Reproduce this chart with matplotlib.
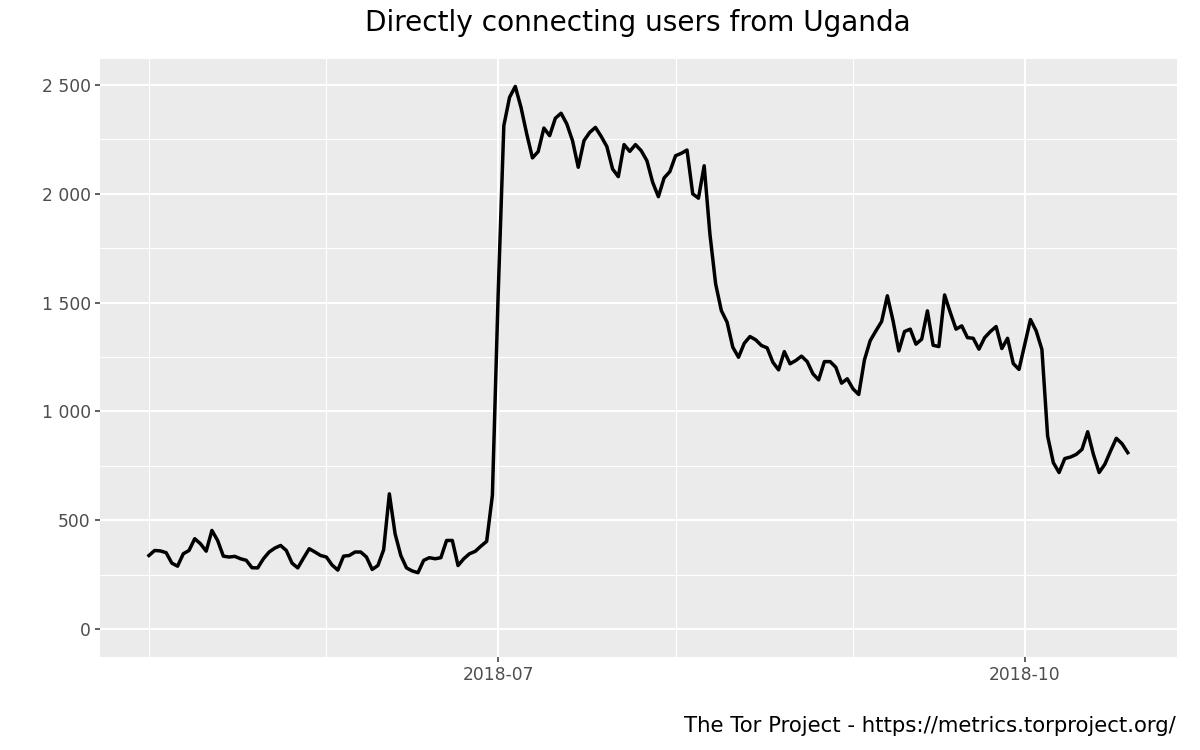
import numpy as np
import pandas as pd
import matplotlib
matplotlib.use("Agg")
import matplotlib.pyplot as plt
import matplotlib.dates as mdates
from matplotlib.ticker import FuncFormatter, MultipleLocator

# Daily directly connecting users, Uganda, from 2018-05-01
start_date = "2018-05-01"
users = [
    339, 362, 360, 352, 304, 290, 347, 362, 416, 393,
    359, 454, 408, 336, 332, 335, 324, 317, 283, 282,
    324, 355, 373, 385, 362, 304, 282, 327, 370, 355,
    339, 332, 295, 272, 336, 339, 355, 355, 332, 275,
    293, 365, 622, 439, 339, 282, 268, 260, 317, 329,
    324, 329, 408, 408, 293, 324, 347, 358, 382, 404,
    615, 1530, 2312, 2442, 2492, 2396, 2274, 2164, 2193, 2301,
    2266, 2346, 2369, 2320, 2243, 2121, 2243, 2281, 2304, 2263,
    2216, 2113, 2078, 2225, 2194, 2225, 2197, 2151, 2052, 1986,
    2072, 2101, 2174, 2185, 2200, 1999, 1979, 2128, 1815, 1586,
    1463, 1410, 1295, 1249, 1313, 1344, 1329, 1303, 1292, 1226,
    1191, 1275, 1219, 1234, 1254, 1229, 1173, 1145, 1229, 1229,
    1203, 1130, 1150, 1104, 1078, 1237, 1325, 1370, 1413, 1531,
    1416, 1278, 1367, 1378, 1309, 1332, 1462, 1304, 1298, 1535,
    1454, 1378, 1393, 1339, 1336, 1286, 1339, 1367, 1390, 1289,
    1336, 1220, 1193, 1308, 1422, 1370, 1285, 887, 765, 720,
    784, 791, 803, 826, 907, 803, 720, 758, 819, 877,
    852, 811,
]
dates = pd.date_range(start_date, periods=len(users), freq="D")

major_dates = pd.to_datetime(["2018-07-01", "2018-10-01"])
minor_dates = pd.to_datetime(["2018-05-01", "2018-06-01", "2018-08-01", "2018-09-01"])

title = "Directly connecting users from Uganda"
caption = "The Tor Project - https://metrics.torproject.org/"

W, H = 1200, 750
fig = plt.figure(figsize=(W / 100, H / 100), dpi=100)
ax = fig.add_axes([100 / W, 1 - 656.5 / H, 1076.7 / W, 597.2 / H])

ax.set_facecolor("#EBEBEB")
for s in ax.spines.values():
    s.set_visible(False)

ax.plot(dates, users, color="black", linewidth=2.5, solid_joinstyle="round", zorder=3)

# ggplot-like expansion
xnum = mdates.date2num(dates)
span = xnum[-1] - xnum[0]
ax.set_xlim(xnum[0] - 0.05 * span, xnum[-1] + 0.05 * span)
ymax = max(users)
ax.set_ylim(-0.05 * ymax, 1.05 * ymax)

ax.set_xticks(mdates.date2num(major_dates))
ax.set_xticks(mdates.date2num(minor_dates), minor=True)
ax.xaxis.set_major_formatter(mdates.DateFormatter("%Y-%m"))
ax.yaxis.set_major_locator(MultipleLocator(500))
ax.yaxis.set_minor_locator(MultipleLocator(250))
ax.yaxis.set_major_formatter(FuncFormatter(lambda v, p: f"{v:,.0f}".replace(",", " ")))

ax.grid(which="major", color="white", linewidth=1.5)
ax.grid(which="minor", color="white", linewidth=0.8)
ax.set_axisbelow(True)

ax.tick_params(which="major", length=3.5, width=1.1, color="#333333",
               labelcolor="#4D4D4D", labelsize=12.3, pad=3.2)
ax.tick_params(which="minor", length=0)

fig.text(638 / W, 1 - 31 / H, title, ha="center", va="baseline", fontsize=20.2, color="black")
fig.text(1176 / W, 1 - 732 / H, caption, ha="right", va="baseline", fontsize=15.3, color="black")

fig.savefig("out.png", dpi=100)
